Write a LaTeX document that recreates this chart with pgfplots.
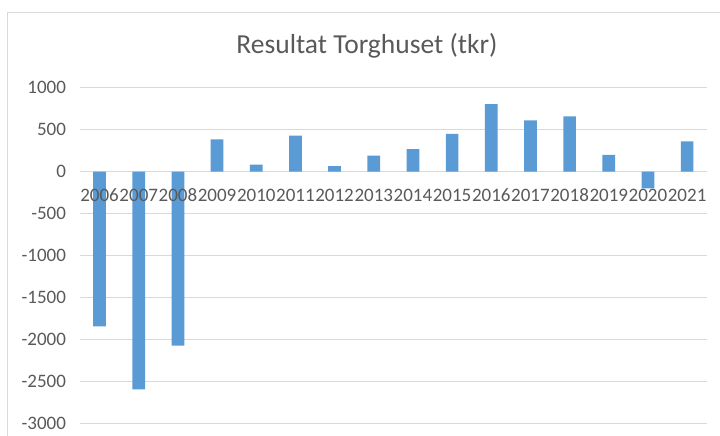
\documentclass[border=0pt]{standalone}
\usepackage{pgfplots}
\pgfplotsset{compat=1.18}
\usepackage{fontspec}
\setmainfont{Carlito}
\definecolor{barblue}{HTML}{5B9BD5}
\definecolor{txtgray}{HTML}{595959}
\definecolor{gridgray}{HTML}{D9D9D9}
\pgfplotsset{
  common/.style={
    at={(80pt,12.3pt)}, anchor=south west,
    scale only axis, width=626.7pt, height=336pt,
    xmin=-0.5, xmax=15.5, ymin=-3000, ymax=1000,
    enlargelimits=false,
    axis x line*=middle, axis y line*=left,
    axis line style={draw=none},
    hide obscured x ticks=false, hide obscured y ticks=false,
    major tick length=0pt,
    /pgf/number format/assume math mode=true,
    /pgf/number format/1000 sep={},
    tick label style={font=\fontsize{19}{22}\selectfont, text=txtgray},
    clip=false,
  }
}
\begin{document}
\begin{tikzpicture}[x=1pt,y=1pt]
\useasboundingbox (0,0) rectangle (720,436);
\draw[gridgray, line width=1.3pt] (7.5,0) -- (7.5,423.3) -- (720,423.3);
\node[anchor=base, text=txtgray, font=\fontsize{27.5}{30}\selectfont] at (367,382.7) {Resultat Torghuset (tkr)};
\begin{axis}[
  common,
  xtick=\empty,
  ytick={-3000,-2500,...,1000},
  ymajorgrids, grid style={gridgray, line width=1.3pt},
  yticklabel style={anchor=east, xshift=-10.5pt},
]
\addplot[ybar, bar width=12.7pt, fill=barblue, draw=none] coordinates {
(0,-1840) (1,-2590) (2,-2070) (3,385) (4,85) (5,430) (6,65) (7,190)
(8,270) (9,450) (10,805) (11,610) (12,660) (13,200) (14,-200) (15,360)
};
\end{axis}
\begin{axis}[
  common,
  ytick=\empty,
  xtick={0,...,15},
  xticklabels={2006,2007,2008,2009,2010,2011,2012,2013,2014,2015,2016,2017,2018,2019,2020,2021},
  xticklabel style={anchor=base, yshift=-30pt, inner sep=0pt},
]
\end{axis}
\end{tikzpicture}
\end{document}
